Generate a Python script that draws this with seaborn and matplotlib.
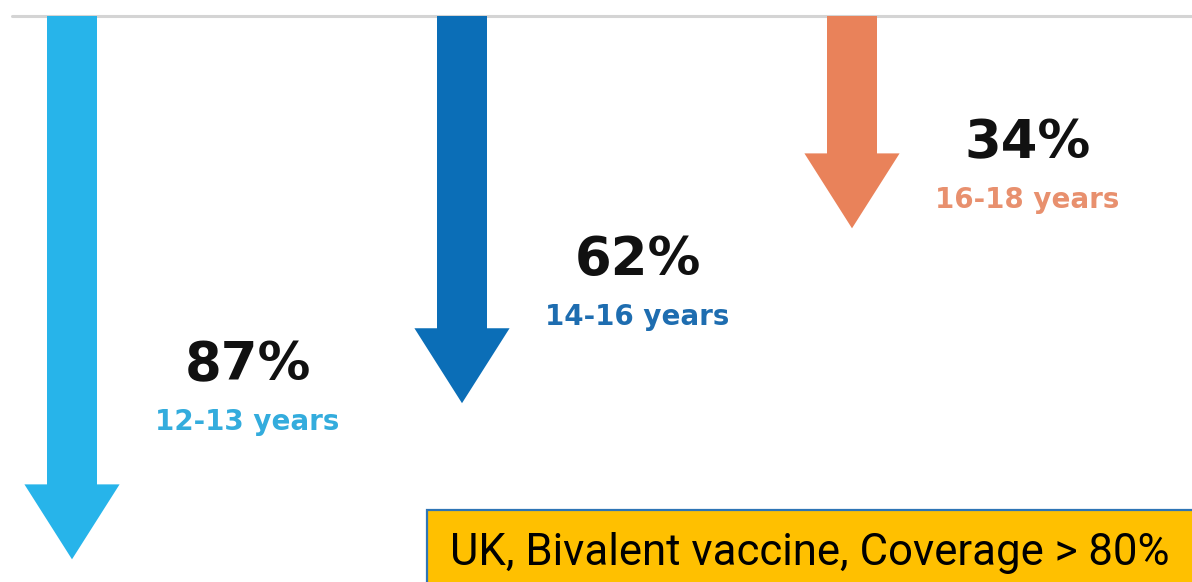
import matplotlib
matplotlib.use("Agg")
import matplotlib.pyplot as plt
import seaborn as sns
import numpy as np
from matplotlib.patches import Rectangle

# ---- data ----
age_groups = ["12-13 years", "14-16 years", "16-18 years"]
reduction = [87, 62, 34]
pct_labels = ["87%", "62%", "34%"]
box_text = "UK, Bivalent vaccine, Coverage > 80%"

# ---- style ----
arrow_colors = ["#27B4EA", "#0B6EB7", "#E9825A"]
label_colors = ["#33ACDD", "#1E6DB0", "#E8906E"]
shaft_w = 0.128
head_w = 0.244
head_len = 12.0

sns.set_theme(style="white")
plt.rcParams["font.family"] = ["DejaVu Sans"]

fig = plt.figure(figsize=(11.92, 5.82), dpi=100)
ax = fig.add_axes([0, 0, 1, 1])

vals = np.array(reduction, dtype=float)
shaft = vals - head_len + 0.4
sns.barplot(x=age_groups, y=shaft, hue=age_groups, palette=arrow_colors,
            width=shaft_w, saturation=1, linewidth=0, legend=False, ax=ax, zorder=3)

for i, v in enumerate(vals):
    ax.fill([i - head_w / 2, i + head_w / 2, i], [v - head_len, v - head_len, v],
            color=arrow_colors[i], lw=0, zorder=3)
    ax.text(i + 0.45, 0.67 * v, pct_labels[i], ha="center", va="baseline",
            fontsize=38, fontweight="bold", color="#111111", zorder=4)
    ax.annotate(age_groups[i], xy=(i + 0.45, 0.67 * v), xytext=(0, -36),
                textcoords="offset points", ha="center", va="baseline",
                fontsize=20, fontweight="bold", color=label_colors[i], zorder=4)

ax.axhline(0, xmin=12 / 1192, xmax=1, color="#D4D4D4", lw=2.2, zorder=1)

ax.set_xlim(-72 / 390, (1192 - 72) / 390)
ax.set_ylim((582 - 16) / 6.245, -16 / 6.245)
ax.axis("off")

box = Rectangle((427 / 1192, -0.05), 0.7, 0.05 + (1 - 510 / 582),
                transform=ax.transAxes, facecolor="#FFC000",
                edgecolor="#2E75B6", lw=1.6, zorder=5, clip_on=False)
ax.add_patch(box)
ax.text(450 / 1192, 1 - 565 / 582, box_text, transform=ax.transAxes,
        ha="left", va="baseline", fontsize=31.5, color="black",
        family=["Roboto", "DejaVu Sans"], zorder=6)

fig.savefig("out.png", dpi=100, facecolor="white")
